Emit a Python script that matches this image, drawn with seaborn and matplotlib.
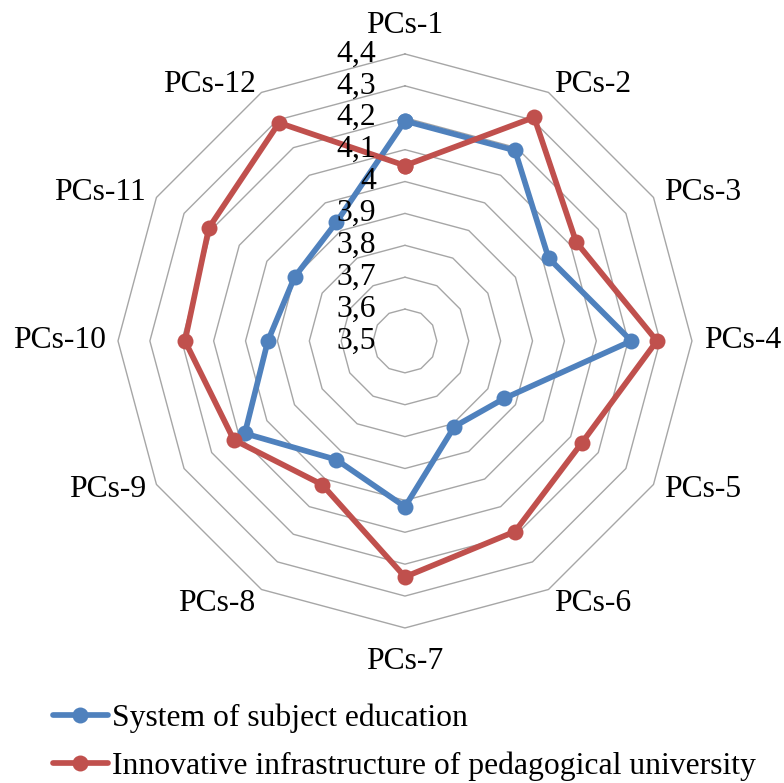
import numpy as np
import pandas as pd
import seaborn as sns
import matplotlib.pyplot as plt

# data
categories = ["PCs-1", "PCs-2", "PCs-3", "PCs-4", "PCs-5", "PCs-6",
              "PCs-7", "PCs-8", "PCs-9", "PCs-10", "PCs-11", "PCs-12"]
subject_education = [4.19, 4.19, 4.02, 4.21, 3.86, 3.81, 4.02, 3.93, 4.08, 3.93, 3.90, 3.93]
innovative_infra = [4.05, 4.31, 4.12, 4.29, 4.14, 4.19, 4.24, 4.02, 4.12, 4.19, 4.21, 4.29]
series_names = ["System of subject education",
                "Innovative infrastructure of pedagogical university"]
ring_levels = [3.5, 3.6, 3.7, 3.8, 3.9, 4.0, 4.1, 4.2, 4.3, 4.4]

sns.set_theme(style="white")
plt.rcParams['font.family'] = ['Liberation Serif', 'DejaVu Serif']
plt.rcParams['text.color'] = 'black'
FS = 22.8

n = len(categories)
theta = np.arange(n) * 2 * np.pi / n
theta_closed = np.append(theta, 2 * np.pi)

rows = []
for name, vals in zip(series_names, [subject_education, innovative_infra]):
    for t, v in zip(theta_closed, list(vals) + [vals[0]]):
        rows.append({"theta": t, "value": v, "series": name})
df = pd.DataFrame(rows)

fig = plt.figure(figsize=(7.84, 7.83), dpi=100)
ax = fig.add_axes([0.1505, 0.198, 0.7321, 0.7331], projection='polar')
ax.set_theta_zero_location('N')
ax.set_theta_direction(-1)

# polygon grid
for lvl in ring_levels[1:]:
    ax.plot(theta_closed, [lvl] * (n + 1), color='#a6a6a6', lw=1.0, clip_on=False, zorder=1)

sns.lineplot(data=df, x="theta", y="value", hue="series", hue_order=series_names,
             palette=["#4f81bd", "#c0504d"], sort=False, estimator=None,
             marker='o', markersize=11.5, markeredgewidth=0, linewidth=4.1,
             ax=ax, zorder=3)

ax.set_ylim(3.5, 4.4)
ax.grid(False)
ax.set_xticks([])
ax.set_yticks([])
ax.set_xlabel("")
ax.set_ylabel("")
ax.spines['polar'].set_visible(False)
ax.patch.set_visible(False)

# value labels along the top axis
for lvl in ring_levels:
    ax.annotate(f"{lvl:g}".replace('.', ','), xy=(0, lvl), xytext=(-21, 0),
                textcoords='offset points', ha='right', va='center',
                fontsize=FS, annotation_clip=False)

# category labels
px = 0.72
for t, lab in zip(theta, categories):
    deg = round(np.degrees(t)) % 360
    s = np.sin(t)
    if abs(s) < 0.1:
        ha = 'center'
    elif s > 0:
        ha = 'left'
    else:
        ha = 'right'
    if deg == 0:
        va, dy = 'baseline', 21
    elif deg in (30, 330):
        va, dy = 'baseline', 0
    elif deg in (60, 300):
        va, dy = 'center', 5
    elif deg in (120, 240):
        va, dy = 'center', -5
    elif deg in (150, 210):
        va, dy = 'top', 0
    elif deg == 180:
        va, dy = 'top', -19
    else:
        va, dy = 'center', 0
    dx = 12 * s
    ax.annotate(lab, xy=(t, 4.4), xytext=(dx * px, dy * px), textcoords='offset points',
                ha=ha, va=va, fontsize=FS, annotation_clip=False)

ax.get_legend().remove()
fig.legend(handles=ax.lines[-2:], labels=series_names, loc='upper left',
           bbox_to_anchor=(0.067, 0.102), frameon=False, fontsize=FS,
           handlelength=1.75, handletextpad=0.12, labelspacing=0.6,
           borderpad=0, borderaxespad=0)

fig.savefig("out.png", dpi=100)
